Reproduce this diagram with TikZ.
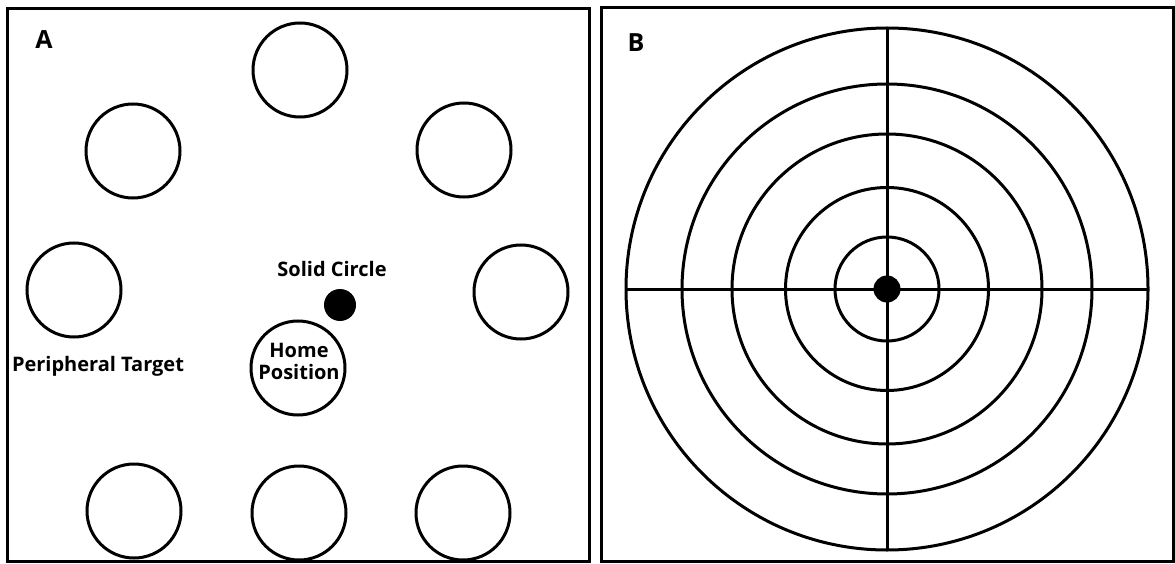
\documentclass[tikz,border=0pt]{standalone}
\usepackage{fontspec}
\setmainfont{Open Sans}
\usetikzlibrary{positioning}

\begin{document}
\begin{tikzpicture}[x=1pt, y=-1pt, line width=3pt,
    target/.style={circle, draw, minimum size=94pt, inner sep=0pt, outer sep=0pt},
    ring/.style={circle, draw, inner sep=0pt, outer sep=0pt},
    lbl/.style={font=\bfseries\fontsize{20}{22}\selectfont, inner sep=0pt},
    panel/.style={font=\bfseries\fontsize{25}{28}\selectfont, inner sep=0pt}]
    \useasboundingbox (0,0) rectangle (1175,564);

    % Panel A: frame and label
    \draw (7,9) rectangle (589,561);
    \node[panel] (labA) at (44,40) {A};

    % Peripheral targets
    \node[target] (tN)  at (300,70)  {};
    \node[target] (tNW) at (133,151) {};
    \node[target] (tNE) at (464,150) {};
    \node[target] (tW)  at (74,290)  {};
    \node[target] (tE)  at (521,292) {};
    \node[target] (tSW) at (134,511) {};
    \node[target] (tS)  at (299,513) {};
    \node[target] (tSE) at (463,513) {};

    % Home position and solid circle
    \node[target] (home) at (298,368) {};
    \node[lbl, align=center] (hometxt) at (299,361) {Home\\Position};
    \node[circle, fill, minimum size=32pt, inner sep=0pt] (solid) at (340,305) {};
    \node[lbl] (solidtxt) at (332,269) {Solid Circle};
    \node[lbl] (periptxt) at (98,366) {Peripheral Target};

    % Panel B: frame and label
    \draw (601,8) rectangle (1173,561);
    \node[panel] (labB) at (636,43) {B};

    % Concentric rings
    \coordinate (cen) at (887,289);
    \foreach \r [count=\i] in {52,101.5,155,205,261}
        \node[ring, minimum size=2*\r pt] (ring\i) at (cen) {};
    \draw (ring5.west) -- (ring5.east);
    \draw (ring5.north) -- (ring5.south);
    \node[circle, fill, minimum size=27pt, inner sep=0pt] (bull) at (cen) {};
\end{tikzpicture}
\end{document}
